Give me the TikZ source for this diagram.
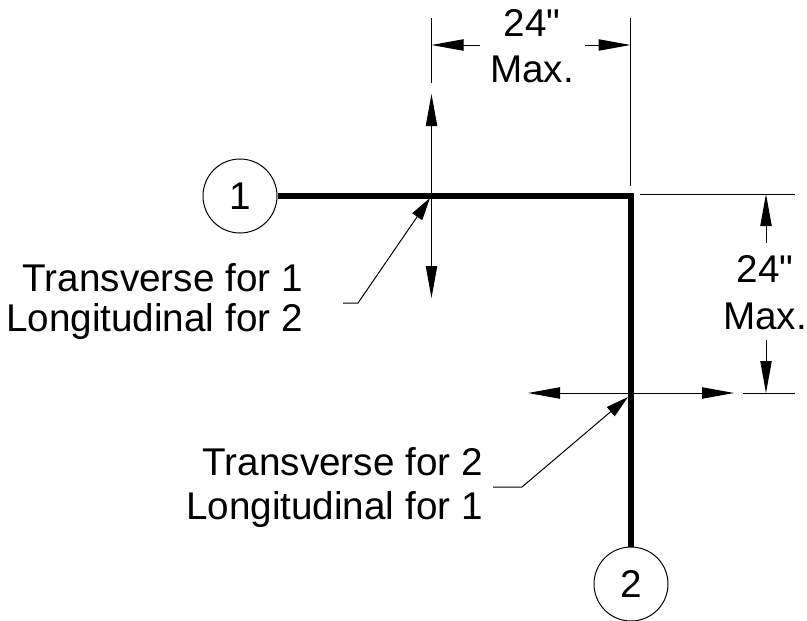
\documentclass[tikz,border=0pt]{standalone}
\usepackage{fontspec}
\setmainfont{Liberation Sans}
\newfontfamily\plainfont{Liberation Sans}
\usetikzlibrary{arrows.meta}
\tikzset{
  x=0.75pt,y=-0.75pt,
  thin line/.style={draw=black,line width=0.75pt},
  heavy/.style={draw=black,line width=5pt,line join=miter},
  dimtip2/.style={-{Triangle[length=24pt,width=8.5pt]}, thin line},
  bothtip/.style={{Triangle[length=24pt,width=8.5pt]}-{Triangle[length=24pt,width=8.5pt]}, thin line},
  leadtip/.style={-{Triangle[length=17pt,width=9pt]}, thin line},
  bubble/.style={circle,draw=black,line width=0.75pt,minimum size=55.5pt,inner sep=0pt,font=\fontsize{29}{29}\selectfont},
  label/.style={inner sep=0pt,font=\fontsize{29}{29}\selectfont},
  rlabel/.style={label,anchor=base east},
}
\begin{document}
\begin{tikzpicture}
\useasboundingbox (0,0) rectangle (807,621);
\node[bubble] (one) at (240,196) {1};
\node[bubble] (two) at (631,584) {2};
\coordinate (corner) at (631,196);
\draw[heavy] (one.east) -- (corner) -- (two.north);

% top dimension
\coordinate (xa) at (431.5,45);
\coordinate (xb) at (630.5,45);
\coordinate (xat) at (431.5,18);
\coordinate (xab) at (431.5,83);
\coordinate (xbt) at (630.5,18);
\coordinate (xbb) at (630.5,186);
\coordinate (xal) at (480,45);
\coordinate (xbl) at (585,45);
\draw[thin line] (xat) -- (xab);
\draw[thin line] (xbt) -- (xbb);
\draw[dimtip2] (xal) -- (xa);
\draw[dimtip2] (xbl) -- (xb);
\node[label] (t24a) at (532,23) {\plainfont 24"};
\node[label] (tmaxa) at (532,69) {Max.};

% right dimension
\coordinate (ya) at (766,194);
\coordinate (yb) at (766,393);
\coordinate (yal) at (766,243);
\coordinate (ybl) at (766,340);
\coordinate (e1a) at (640,194);
\coordinate (e1b) at (795,194);
\coordinate (e2a) at (743,393);
\coordinate (e2b) at (795,393);
\draw[thin line] (e1a) -- (e1b);
\draw[thin line] (e2a) -- (e2b);
\draw[dimtip2] (yal) -- (ya);
\draw[dimtip2] (ybl) -- (yb);
\node[label] (t24b) at (765,269) {\plainfont 24"};
\node[label] (tmaxb) at (765,316) {Max.};

% crossing arrows
\coordinate (vt) at (431.5,94);
\coordinate (vb) at (431.5,298);
\coordinate (hl) at (528,393);
\coordinate (hr) at (734,393);
\draw[bothtip] (vt) -- (vb);
\draw[bothtip] (hl) -- (hr);

% leaders
\coordinate (p1) at (430,198);
\coordinate (k1) at (358,303);
\coordinate (s1) at (343,303);
\coordinate (p2) at (628,397);
\coordinate (k2) at (522,487);
\coordinate (s2) at (493,487);
\draw[leadtip] (s1) -- (k1) -- (p1);
\draw[leadtip] (s2) -- (k2) -- (p2);

\node[rlabel] (l1a) at (303,291) {Transverse for 1};
\node[rlabel] (l1b) at (303,331) {Longitudinal for 2};
\node[rlabel] (l2a) at (483,475) {Transverse for 2};
\node[rlabel] (l2b) at (483,519) {Longitudinal for 1};
\end{tikzpicture}
\end{document}
